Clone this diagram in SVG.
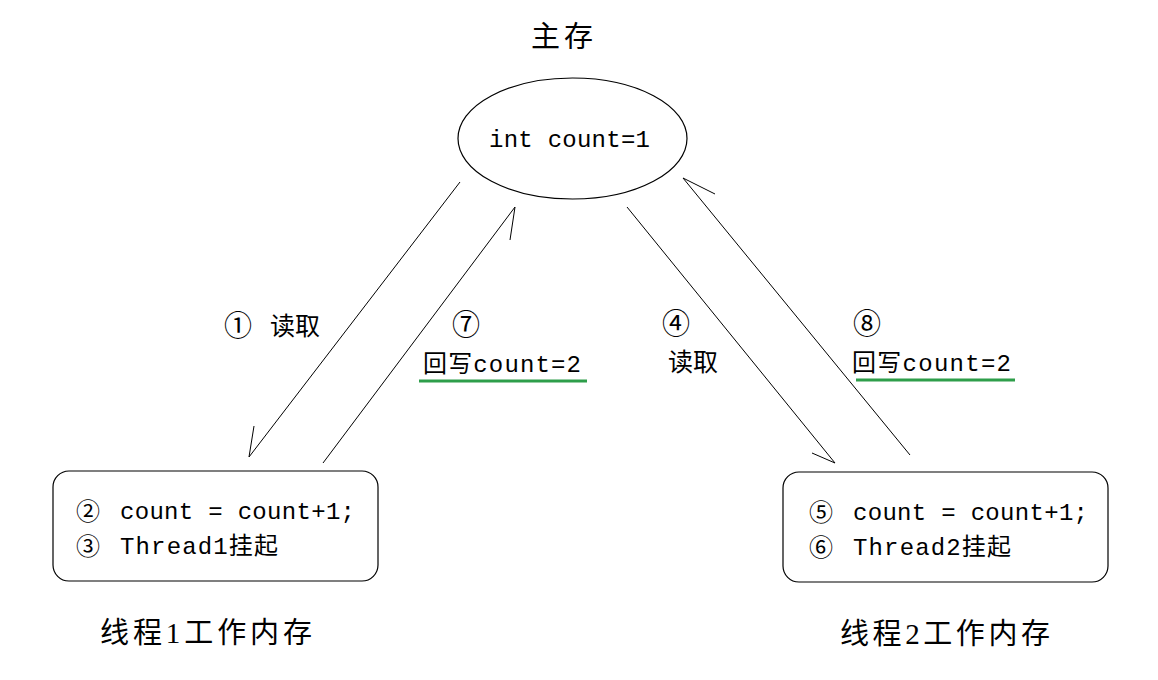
<svg xmlns="http://www.w3.org/2000/svg" width="1158" height="680" viewBox="0 0 1158 680">
<style>
.bg{fill:#ffffff}
.shape{fill:#ffffff;stroke:#000000;stroke-width:1.2}
.conn{fill:none;stroke:#000000;stroke-width:1}
.code{font-family:"Liberation Mono","Noto Sans CJK SC",monospace;font-size:24px;fill:#000000}
.lbl{font-family:"Liberation Serif","Noto Sans CJK SC",serif;font-size:25px;fill:#000000}
.num{font-family:"Noto Sans CJK SC",sans-serif;font-size:28px;fill:#000000}
.bnum{font-family:"Noto Sans CJK SC",sans-serif;font-size:24px;fill:#000000}
.title{font-family:"Liberation Serif","Noto Sans CJK SC",serif;font-size:29px;fill:#000000}
.ul{stroke:#2e9e4a;stroke-width:3}
</style>
<rect class="bg" x="0" y="0" width="1158" height="680"/>
<g id="main-memory">
<text class="title" x="531" y="47" textLength="62">主存</text>
<ellipse class="shape" cx="572.5" cy="138.5" rx="114.5" ry="60.5"/>
<text class="code" x="489" y="147" textLength="161">int count=1</text>
</g>
<g id="thread1">
<rect class="shape" x="53" y="471" width="325" height="110" rx="16" ry="16"/>
<text class="bnum" x="76" y="520">②</text>
<text class="code" x="120" y="519" textLength="235">count = count+1;</text>
<text class="bnum" x="76" y="555">③</text>
<text class="code" x="120" y="554" textLength="158">Thread1挂起</text>
<text class="title" x="100" y="643" textLength="212">线程1工作内存</text>
</g>
<g id="thread2">
<rect class="shape" x="783" y="472" width="325" height="110" rx="16" ry="16"/>
<text class="bnum" x="809" y="521">⑤</text>
<text class="code" x="853" y="520" textLength="235">count = count+1;</text>
<text class="bnum" x="809" y="556">⑥</text>
<text class="code" x="853" y="555" textLength="158">Thread2挂起</text>
<text class="title" x="840" y="644" textLength="210">线程2工作内存</text>
</g>
<g id="connectors">
<path class="conn" d="M460,182 L249,457 M249,457 L254,426"/>
<path class="conn" d="M323,463 L515,207 M515,207 L510,240"/>
<path class="conn" d="M627,207 L835,463 M835,463 L812,453"/>
<path class="conn" d="M910,455 L683,178 M683,178 L715,194"/>
</g>
<g id="labels">
<text class="num" x="224" y="336">①</text>
<text class="lbl" x="270" y="335">读取</text>
<text class="num" x="452" y="335">⑦</text>
<text class="code" x="423" y="372" font-size="22" textLength="158">回写count=2</text>
<line class="ul" x1="419" y1="381" x2="587" y2="381"/>
<text class="num" x="662" y="334">④</text>
<text class="lbl" x="668" y="371">读取</text>
<text class="num" x="853" y="334">⑧</text>
<text class="code" x="852" y="371" font-size="22" textLength="159">回写count=2</text>
<line class="ul" x1="856" y1="380" x2="1015" y2="380"/>
</g>
</svg>
